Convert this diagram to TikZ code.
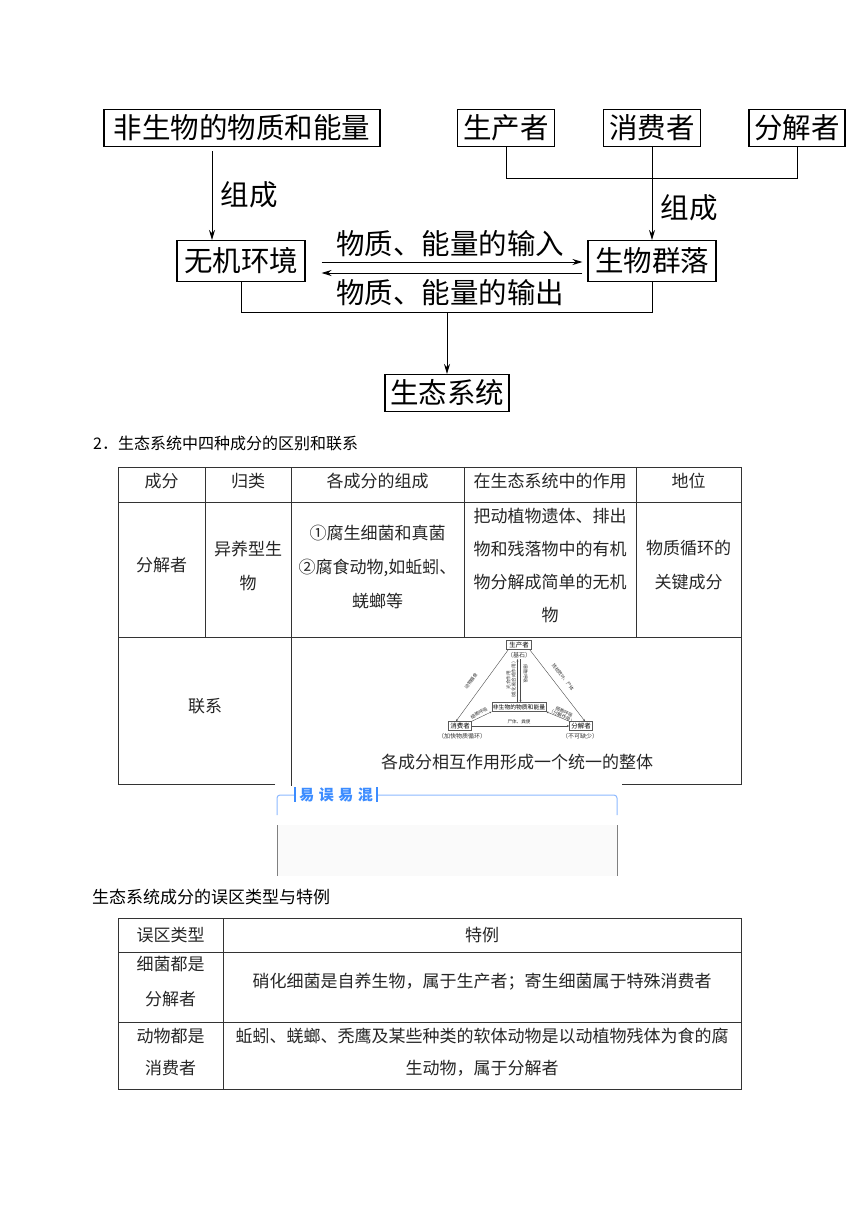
\documentclass[tikz,border=0pt]{standalone}
\usepackage{fontspec}
\setmainfont{Noto Sans CJK SC}
\usetikzlibrary{arrows.meta, positioning}

\definecolor{xianse}{HTML}{333333}
\definecolor{yiwulan}{HTML}{3C8CFF}
\definecolor{yiwuxian}{HTML}{8DB9FF}

\begin{document}
\begin{tikzpicture}[x=1pt, y=-1pt, >={Stealth[length=10pt,width=6pt]},
    kuang/.style={draw, line width=1.1pt, minimum height=37pt, inner sep=0pt, font=\fontsize{28.5}{30}\selectfont},
    jiantou/.style={->, line width=0.9pt},
    biaozhu/.style={font=\fontsize{28.5}{30}\selectfont, inner sep=0pt},
    biaoxian/.style={xianse, line width=0.8pt},
    biaoge/.style={font=\fontsize{17}{34}\selectfont, align=center, text=black!85, inner sep=0pt},
    biaoti/.style={font=\fontsize{16}{20}\selectfont, anchor=west, inner sep=0pt},
    xiaokuang/.style={draw=black!65, line width=0.4pt, inner sep=1pt, minimum height=9pt, font=\fontsize{6.5}{7}\selectfont},
    xiaobiao/.style={font=\fontsize{6}{7}\selectfont, inner sep=0pt, text=black!80},
    xiaozi/.style={font=\fontsize{4.6}{5.4}\selectfont, inner sep=0pt, align=center, text=black!80},
    xiaojian/.style={-{Stealth[length=2.4pt,width=1.8pt]}, line width=0.4pt, black!70}]
    \fill[white] (0,0) rectangle (860,1216);
    \useasboundingbox (0,0) rectangle (860,1216);

    % 生态系统的组成
    \node[kuang, minimum width=276pt] (fsw) at (242,128) {非生物的物质和能量};
    \node[kuang, minimum width=97pt] (scz) at (506,128) {生产者};
    \node[kuang, minimum width=97pt] (xfz) at (652,128) {消费者};
    \node[kuang, minimum width=96pt] (fjz) at (797,128) {分解者};
    \node[kuang, minimum width=128pt, minimum height=41pt] (wjhj) at (241,261) {无机环境};
    \node[kuang, minimum width=128pt, minimum height=41pt] (swql) at (652,261) {生物群落};
    \node[kuang, minimum width=124pt] (stxt) at (447,393) {生态系统};

    \draw[jiantou] ([xshift=-30pt,yshift=-4pt]fsw.south) -- ([xshift=-29pt]wjhj.north);
    \node[biaozhu] (zc1) at (249,195) {组成};
    \draw[line width=0.9pt] (scz.south) -- ++(0,31) -| (fjz.south);
    \draw[jiantou] (xfz.south) -- (swql.north);
    \node[biaozhu] (zc2) at (689,208) {组成};

    \draw[jiantou] ([xshift=16pt,yshift=-1pt]wjhj.east) -- ([xshift=-5pt,yshift=-1pt]swql.west);
    \draw[jiantou] ([xshift=-5pt,yshift=-12pt]swql.west) -- ([xshift=16pt,yshift=-12pt]wjhj.east);
    \node[biaozhu] (shuru) at (450,244) {物质、能量的输入};
    \node[biaozhu] (shuchu) at (450,293) {物质、能量的输出};

    \draw[line width=0.9pt] (wjhj.south) -- ++(0,30) coordinate (hui) -| (swql.south);
    \draw[jiantou] (hui -| stxt.north) -- (stxt.north);

    % 表一
    \node[biaoti] (bt1) at (93,443) {2．生态系统中四种成分的区别和联系};
    \draw[biaoxian] (275,784) -- (118,784) -- (118,467) -- (741,467) -- (741,784) -- (622,784);
    \draw[biaoxian] (118,502) -- (741,502) (118,637) -- (741,637);
    \foreach \lie in {205,464,636}
        \draw[biaoxian] (\lie,467) -- (\lie,637);
    \draw[biaoxian] (291,467) -- (291,786);

    \node[biaoge] (cf) at (161.5,481) {成分};
    \node[biaoge] (gl) at (248,481) {归类};
    \node[biaoge] (zcz) at (377.5,481) {各成分的组成};
    \node[biaoge] (zy) at (550,481) {在生态系统中的作用};
    \node[biaoge] (dw) at (688.5,481) {地位};

    \node[biaoge] (fjzz) at (161.5,565) {分解者};
    \node[biaoge] (yyx) at (248,565.5) {异养型生\\物};
    \node[biaoge] (fsxj) at (377.5,567) {①腐生细菌和真菌\\②腐食动物,如蚯蚓、\\蜣螂等};
    \node[biaoge, font=\fontsize{17}{33}\selectfont] (bdzw) at (550,565.5) {把动植物遗体、排出\\物和残落物中的有机\\物分解成简单的无机\\物};
    \node[biaoge] (wzxh) at (688.5,565.5) {物质循环的\\关键成分};

    \node[biaoge] (lx) at (205,706) {联系};
    \node[biaoge] (ztz) at (517,762) {各成分相互作用形成一个统一的整体};

    % 四种成分的关系小图
    \node[xiaokuang, minimum width=25pt] (scz2) at (519,645) {生产者};
    \node[xiaobiao] (jishi) at (519,655) {（基石）};
    \node[xiaokuang, minimum width=23pt] (xfz2) at (460,726) {消费者};
    \node[xiaobiao] (jiakuai) at (462,736) {（加快物质循环）};
    \node[xiaokuang, minimum width=23pt] (fjz2) at (581,726) {分解者};
    \node[xiaobiao] (bukeque) at (580,736) {（不可缺少）};
    \node[xiaokuang, font=\fontsize{5.8}{6}\selectfont] (fsw2) at (519,707) {非生物的物质和能量};

    \draw[xiaojian] ([xshift=-1.5pt]fsw2.north) -- ([xshift=-1.5pt,yshift=-1pt]jishi.south);
    \draw[xiaojian] ([xshift=1.5pt,yshift=-1pt]jishi.south) -- ([xshift=1.5pt]fsw2.north);
    \node[xiaozi, rotate=90] (gh) at (511,680) {光合作用\\（或化能合成作用）};
    \node[xiaozi, rotate=-90] (hx1) at (525.5,674) {细胞呼吸};

    \draw[xiaojian] ([xshift=2pt]scz2.south west) -- ([xshift=-4pt]xfz2.north);
    \node[xiaozi, rotate=55] (shishi) at (471,681) {动物摄食};
    \draw[xiaojian] ([xshift=-2pt]scz2.south east) -- ([xshift=4pt]fjz2.north);
    \node[xiaozi, rotate=-52] (canzhi) at (563,677) {残枝败叶、尸体};
    \draw[xiaojian] (xfz2.east) -- (fjz2.west);
    \node[xiaozi] (shiti) at (519,722) {尸体、粪便};
    \draw[xiaojian] (xfz2.north east) -- (fsw2.south west);
    \node[xiaozi, rotate=29] (hx2) at (479,713) {细胞呼吸};
    \draw[xiaojian] (fjz2.north west) -- (fsw2.south east);
    \node[xiaozi, rotate=-26] (hx3) at (563,714) {细胞呼吸\\（分解作用）};

    % 易误易混
    \draw[yiwuxian, line width=1pt, rounded corners=3pt] (295,795) -- (277,795) -- (277,815);
    \draw[yiwuxian, line width=1pt, rounded corners=3pt] (377,795) -- (617,795) -- (617,815);
    \draw[yiwulan, line width=2pt] (295,787) -- (295,802) (377,787) -- (377,802);
    \node[font=\fontsize{15}{16}\selectfont\bfseries, text=yiwulan, inner sep=0pt] (yiwu) at (336,795) {易\hspace{4.5pt}误\hspace{4.5pt}易\hspace{4.5pt}混};
    \fill[black!2] (277,825) rectangle (617,876);
    \draw[black!50, line width=0.9pt] (277,825) -- (277,876) (617,825) -- (617,876);

    % 表二
    \node[biaoti, font=\fontsize{17}{20}\selectfont] (bt2) at (92,897) {生态系统成分的误区类型与特例};
    \draw[biaoxian] (118,918) rectangle (741,1089);
    \draw[biaoxian] (118,952) -- (741,952) (118,1022) -- (741,1022) (223,918) -- (223,1089);

    \node[biaoge] (wqlx) at (170.5,935) {误区类型};
    \node[biaoge] (tl) at (482,935) {特例};
    \node[biaoge, font=\fontsize{17}{35}\selectfont] (xjfj) at (170.5,981.5) {细菌都是\\分解者};
    \node[biaoge] (xhxj) at (482,982) {硝化细菌是自养生物，属于生产者；寄生细菌属于特殊消费者};
    \node[biaoge, font=\fontsize{17}{32}\selectfont] (dwxf) at (170.5,1052) {动物都是\\消费者};
    \node[biaoge, font=\fontsize{17}{32}\selectfont] (qyty) at (482,1052) {蚯蚓、蜣螂、秃鹰及某些种类的软体动物是以动植物残体为食的腐\\生动物，属于分解者};
\end{tikzpicture}
\end{document}
